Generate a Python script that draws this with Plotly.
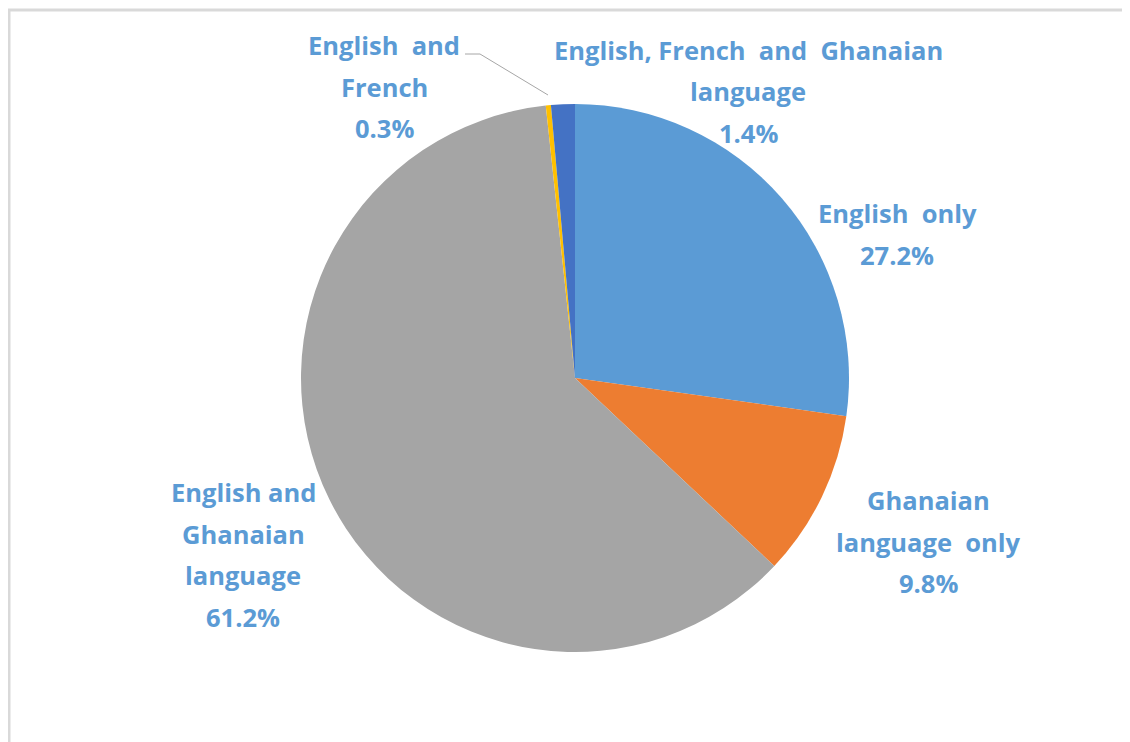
import plotly.graph_objects as go

categories = ["English only", "Ghanaian language only", "English and Ghanaian language",
              "English and French", "English, French and Ghanaian language"]
values = [27.2, 9.8, 61.2, 0.3, 1.4]
colors = ["#5B9BD5", "#ED7D31", "#A5A5A5", "#FFC000", "#4472C4"]
label_lines = [
    ["English  only"],
    ["Ghanaian", "language  only"],
    ["English and", "Ghanaian", "language"],
    ["English  and", "French"],
    ["English, French  and  Ghanaian", "language"],
]
# label block anchor (centre x, first-line y) in pixels of the final picture
label_pos = [(897, 213), (928, 500), (243, 492), (384, 45), (748, 50)]

OFF = 8  # page body margin
W, H = 1130 - OFF, 742 - OFF
LINE = 41.5


def px(x):
    return (x - OFF) / W


def py(y):
    return 1 - (y - OFF) / H


CX, CY, R = 575, 378, 274

fig = go.Figure()
fig.add_trace(go.Pie(
    labels=categories, values=values, sort=False, direction="clockwise", rotation=0,
    marker=dict(colors=colors, line=dict(width=0)),
    textinfo="none", hoverinfo="label+percent", showlegend=False,
    domain=dict(x=[px(CX - R), px(CX + R)], y=[py(CY + R), py(CY - R)]),
))

font = dict(family="Open Sans, Lato, sans-serif", size=25.5, color="#5B9BD5", weight="bold")
for lines, v, (cx, cy) in zip(label_lines, values, label_pos):
    all_lines = lines + [f"{v:.1f}%"]
    for i, t in enumerate(all_lines):
        fig.add_annotation(x=px(cx), y=py(cy + i * LINE), xref="paper", yref="paper",
                           text=t, showarrow=False, font=font, xanchor="center", yanchor="middle")

# leader line for the tiny slice
fig.add_shape(type="path", xref="paper", yref="paper",
              path=f"M {px(465)} {py(54)} L {px(480)} {py(54)} L {px(548)} {py(95)}",
              line=dict(color="#A6A6A6", width=1))

# chart frame (top and left edges)
fig.add_shape(type="line", xref="paper", yref="paper", x0=px(8), x1=1, y0=py(10), y1=py(10),
              line=dict(color="#D9D9D9", width=3))
fig.add_shape(type="line", xref="paper", yref="paper", x0=px(9), x1=px(9), y0=0, y1=py(10),
              line=dict(color="#D9D9D9", width=3))

fig.update_layout(width=W, height=H, margin=dict(l=0, r=0, t=0, b=0),
                  paper_bgcolor="white", plot_bgcolor="white")
fig.write_html("out.html")
